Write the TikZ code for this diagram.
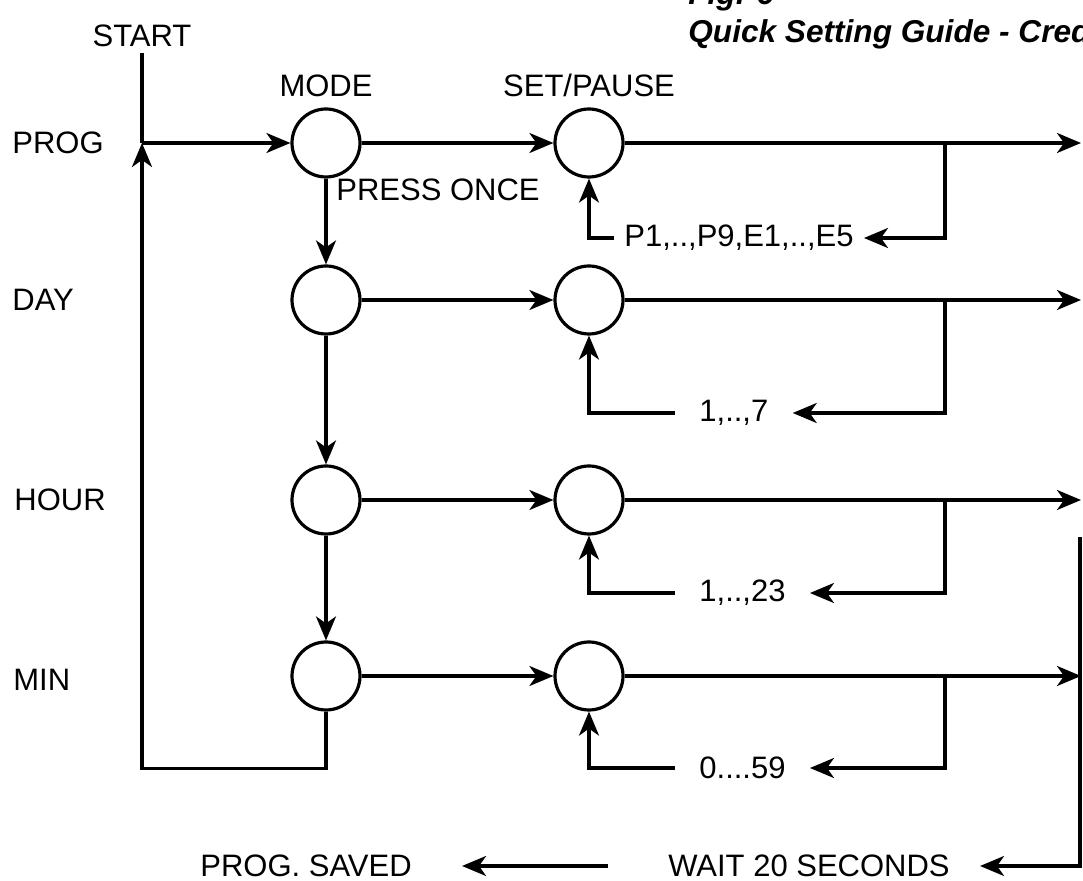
\documentclass[tikz,border=0pt]{standalone}
\usepackage{fontspec}
\setmainfont{Liberation Sans}
\usetikzlibrary{arrows.meta, positioning, calc}

\begin{document}
\begin{tikzpicture}[x=0.5pt, y=-0.5pt,
          button/.style={circle, draw=black, line width=1.6pt, minimum size=34pt, inner sep=0pt},
          txt/.style={font=\fontsize{15.5}{18}\selectfont, inner sep=0pt},
          titletxt/.style={font=\fontsize{15.8}{19}\selectfont\bfseries\itshape, inner sep=0pt, align=left},
          wire/.style={line width=1.6pt, line join=miter},
          arrow/.style={wire, -{Stealth[length=12pt, width=10pt, inset=3.5pt]}}]

        \useasboundingbox (0,0) rectangle (1083,881);
        \clip (0,0) rectangle (1083,881);

        % title, cut by the page edge
        \node [titletxt, anchor=base west] (title) at (688,43) {Fig. 6\\Quick Setting Guide - Cred};

        % row labels
        \node [txt] (start) at (142,36) {START};
        \node [txt, anchor=west] (prog) at (12,143) {PROG};
        \node [txt, anchor=west] (day) at (12,300) {DAY};
        \node [txt, anchor=west] (hour) at (14,500) {HOUR};
        \node [txt, anchor=west] (min) at (13,680) {MIN};

        % buttons
        \node [button] (m1) at (326,143) {};
        \node [button] (m2) at (326,300) {};
        \node [button] (m3) at (326,500) {};
        \node [button] (m4) at (326,676) {};
        \node [button] (s1) at (589,143) {};
        \node [button] (s2) at (589,300) {};
        \node [button] (s3) at (589,500) {};
        \node [button] (s4) at (589,676) {};

        \node [txt, above=5pt of m1] (mode) {MODE};
        \node [txt, above=5pt of s1] (setpause) {SET/PAUSE};
        \node [txt, anchor=west] (once) at (336,190) {PRESS ONCE};

        % values
        \node [txt, inner xsep=5pt, anchor=west] (v1) at (614,238) {P1,..,P9,E1,..,E5};
        \node [txt, inner sep=12pt, anchor=west] (v2) at (675,413) {1,..,7};
        \node [txt, inner sep=12pt, anchor=west] (v3) at (675,593) {1,..,23};
        \node [txt, inner sep=12pt, anchor=west] (v4) at (675,768) {0....59};

        \node [txt] (saved) at (306,866) {PROG. SAVED};
        \node [txt, inner xsep=15pt] (wait) at (809,866) {WAIT 20 SECONDS};

        % helper points
        \coordinate (jn) at (start.south |- m1);
        \coordinate (j1) at (945,143);
        \coordinate (j2) at (945,300);
        \coordinate (j3) at (945,500);
        \coordinate (j4) at (945,676);
        \coordinate (e1) at (1081,143);
        \coordinate (e2) at (1081,300);
        \coordinate (e3) at (1081,500);
        \coordinate (e4) at (1081,676);
        \coordinate (r0) at (1080,537);

        % start and loop back
        \draw [wire, shorten <=3pt] (start.south) -- (jn);
        \draw [arrow] (jn) -- (m1);
        \draw [arrow] (m4.south) -- ++(0,57) -| (jn);

        % mode steps
        \draw [arrow] (m1) -- (m2);
        \draw [arrow] (m2) -- (m3);
        \draw [arrow] (m3) -- (m4);

        \draw [arrow] (m1) -- (s1);
        \draw [arrow] (m2) -- (s2);
        \draw [arrow] (m3) -- (s3);
        \draw [arrow] (m4) -- (s4);

        \draw [arrow] (s1) -- (e1);
        \draw [arrow] (s2) -- (e2);
        \draw [arrow] (s3) -- (e3);
        \draw [arrow] (s4) -- (e4);

        % set/pause loops
        \draw [arrow] (j1) |- (v1.east);
        \draw [arrow] (j2) |- (v2.east);
        \draw [arrow] (j3) |- (v3.east);
        \draw [arrow] (j4) |- (v4.east);
        \draw [arrow] (v1.west) -| (s1.south);
        \draw [arrow] (v2.west) -| (s2.south);
        \draw [arrow] (v3.west) -| (s3.south);
        \draw [arrow] (v4.west) -| (s4.south);

        % save
        \draw [arrow] (r0) |- (wait.east);
        \draw [arrow, shorten <=15pt, shorten >=25pt] (wait.west) -- (wait.west -| saved.east);
      \end{tikzpicture}
\end{document}
